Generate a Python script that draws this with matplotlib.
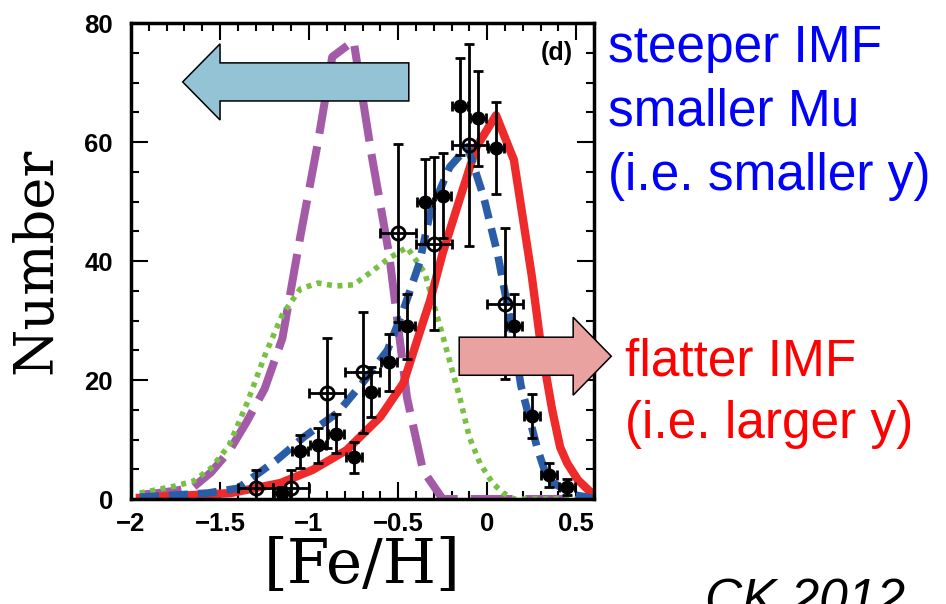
"""
Metallicity distribution panel (d) with model curves and two data sets
"""
import matplotlib
matplotlib.use("Agg")
import matplotlib.pyplot as plt
from matplotlib.patches import FancyArrow
from matplotlib.ticker import MultipleLocator, FixedLocator, FixedFormatter

# model curves
purple_x = [-1.95, -1.85, -1.75, -1.65, -1.55, -1.45, -1.35, -1.25, -1.15, -1.05,
            -0.95, -0.87, -0.75, -0.65, -0.55, -0.45, -0.36, -0.25, 0.6]
purple_y = [0.7, 1.0, 1.4, 2.0, 4.5, 8.0, 13.0, 18.5, 27.0, 44.0,
            60.0, 74.3, 77.0, 58.0, 41.0, 17.0, 4.8, 0.0, 0.0]

green_x = [-1.95, -1.85, -1.75, -1.65, -1.55, -1.45, -1.35, -1.25, -1.15, -1.05,
           -0.95, -0.85, -0.75, -0.65, -0.55, -0.45, -0.35, -0.25, -0.15, -0.10,
           -0.04, 0.03, 0.09, 0.15, 0.6]
green_y = [1.0, 1.6, 2.2, 3.0, 5.2, 9.0, 16.0, 24.0, 31.0, 35.3,
           36.3, 35.8, 36.0, 38.2, 40.5, 42.3, 38.0, 27.5, 16.6, 10.4,
           6.0, 2.7, 1.0, 0.0, 0.0]

blue_x = [-1.95, -1.57, -1.40, -1.18, -1.03, -0.84, -0.70, -0.56, -0.47, -0.38,
          -0.32, -0.21, -0.11, -0.02, 0.06, 0.14, 0.19, 0.28, 0.34, 0.49, 0.6]
blue_y = [0.3, 1.0, 1.8, 6.6, 10.4, 14.5, 19.5, 25.0, 31.8, 39.7,
          48.1, 55.8, 59.2, 50.8, 41.0, 28.4, 19.0, 8.7, 3.2, 0.7, 0.1]

red_x = [-1.95, -1.44, -1.16, -0.98, -0.79, -0.60, -0.47, -0.38, -0.32, -0.25,
         -0.15, -0.06, 0.05, 0.15, 0.25, 0.30, 0.365, 0.41, 0.45, 0.51, 0.6]
red_y = [0.2, 1.0, 2.7, 4.9, 8.2, 13.8, 19.5, 27.9, 33.4, 41.3,
         50.8, 59.2, 64.5, 57.0, 37.6, 26.2, 15.0, 8.7, 6.0, 3.2, 0.6]

# data: filled symbols (0.1 dex bins)
feh_filled = [-1.15, -1.05, -0.95, -0.85, -0.75, -0.65, -0.55, -0.45, -0.35,
              -0.25, -0.15, -0.05, 0.05, 0.15, 0.25, 0.35, 0.45]
num_filled = [1, 8, 9, 11, 7, 18, 23, 29, 50, 51, 66, 64, 59, 29, 14, 4, 2]
err_filled = [1.0, 2.8, 3.0, 3.3, 2.6, 4.2, 4.8, 5.4, 7.1, 7.1, 8.1, 8.0, 7.7,
              5.4, 3.7, 2.0, 1.4]

# data: open symbols (0.2 dex bins)
feh_open = [-1.3, -1.1, -0.9, -0.7, -0.5, -0.3, -0.1, 0.1]
num_open = [1.8, 1.8, 17.8, 21.3, 44.7, 42.9, 59.5, 32.8]
err_open = [3.0, 3.0, 9.3, 10.2, 14.9, 14.5, 17.0, 12.7]

xtick_vals = [-2, -1.5, -1, -0.5, 0, 0.5]
xtick_text = ["\u22122", "\u22121.5", "\u22121", "\u22120.5", "0", "0.5"]
ytick_vals = [0, 20, 40, 60, 80]

fig = plt.figure(figsize=(9.46, 6.04), dpi=100)
ax = fig.add_axes([0.1385, 0.1738, 0.4894, 0.7881])

# model curves
ax.plot(purple_x, purple_y, color="#a45ba7", lw=5.8, dashes=(5.2, 1.6),
        solid_capstyle="butt", dash_capstyle="butt", zorder=2)
ax.plot(green_x, green_y, color="#78c043", lw=4.0, dashes=(0.9, 1.0),
        dash_capstyle="butt", zorder=2)
ax.plot(red_x, red_y, color="#ee2a2a", lw=6.0, zorder=2)
ax.plot(blue_x, blue_y, color="#2a5ca8", lw=5.5, dashes=(2.5, 1.3),
        dash_capstyle="butt", zorder=2)

# data points
ax.errorbar(feh_filled, num_filled, yerr=err_filled, xerr=0.045, fmt="o",
            color="k", ms=9, elinewidth=2.0, capsize=3.8, capthick=2.0,
            zorder=3)
ax.errorbar(feh_open, num_open, yerr=err_open, xerr=0.1, fmt="o", color="k",
            mfc="none", mec="k", mew=2.0, ms=9.5, elinewidth=2.0, capsize=3.8,
            capthick=2.0, zorder=3)

# arrows
ax.add_patch(FancyArrow(-0.44, 70.1, -1.27, 0, width=6.4, head_width=12.8,
                        head_length=0.21, length_includes_head=True,
                        facecolor="#93c3d4", edgecolor="k", lw=1.1,
                        zorder=4, clip_on=False))
ax.add_patch(FancyArrow(-0.157, 24.0, 0.854, 0, width=6.4, head_width=13.1,
                        head_length=0.214, length_includes_head=True,
                        facecolor="#e9a2a0", edgecolor="k", lw=1.1,
                        zorder=4, clip_on=False))

ax.set_xlim(-2, 0.6)
ax.set_ylim(0, 80)

ax.xaxis.set_major_locator(FixedLocator(xtick_vals))
ax.xaxis.set_major_formatter(FixedFormatter(xtick_text))
ax.xaxis.set_minor_locator(MultipleLocator(0.1))
ax.yaxis.set_major_locator(FixedLocator(ytick_vals))
ax.yaxis.set_minor_locator(MultipleLocator(5))

ax.tick_params(which="both", direction="in", top=True, right=True, width=1.5)
ax.tick_params(which="major", length=12)
ax.tick_params(which="minor", length=6)
ax.tick_params(axis="y", pad=13)
ax.tick_params(axis="x", pad=9)
for lab in ax.get_xticklabels() + ax.get_yticklabels():
    lab.set_fontfamily("Liberation Sans")
    lab.set_fontweight("bold")
    lab.set_fontsize(18.5)

for sp in ax.spines.values():
    sp.set_linewidth(2.5)

ax.set_xlabel("[Fe/H]", family="DejaVu Serif", fontsize=44, labelpad=0)
ax.set_ylabel("Number", family="DejaVu Serif", fontsize=39, labelpad=16)

ax.text(0.92, 0.937, "(d)", transform=ax.transAxes, ha="center", va="center",
        family="Liberation Sans", fontweight="bold", fontsize=18)

# annotations outside the panel
W, H = 946.0, 604.0
for txt, yb in [("steeper IMF", 62), ("smaller Mu", 125), ("(i.e. smaller y)", 190)]:
    fig.text(608 / W, 1 - yb / H, txt, color="#0000ff", fontsize=37,
             family="Liberation Sans", va="baseline", ha="left")
for txt, yb in [("flatter IMF", 375), ("(i.e. larger y)", 438)]:
    fig.text(625 / W, 1 - yb / H, txt, color="#ff0000", fontsize=37,
             family="Liberation Sans", va="baseline", ha="left")
fig.text(705 / W, 1 - 615 / H, "CK 2012", color="k", fontsize=37,
         family="Liberation Sans", style="italic", va="baseline", ha="left")

fig.savefig("out.png", dpi=100)
